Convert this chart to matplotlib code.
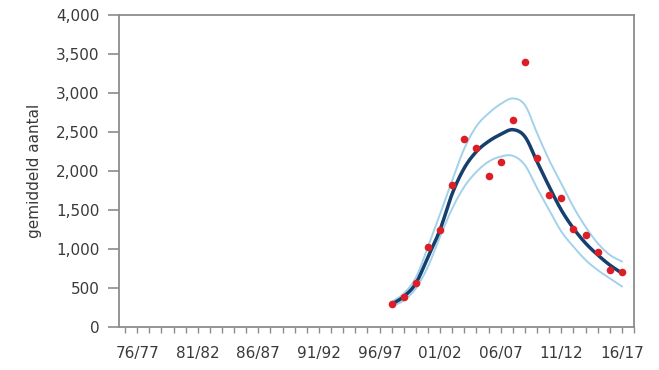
import numpy as np
import matplotlib
matplotlib.use("Agg")
import matplotlib.pyplot as plt
from matplotlib.ticker import FixedLocator, FuncFormatter

plt.rcParams["font.family"] = ["DejaVu Sans"]

# Seasons 97/98 .. 16/17, indexed by starting year
season_start = list(range(1997, 2017))

observed = [290, 380, 570, 1030, 1250, 1820, 2410, 2290, 1940, 2110,
            2650, 3400, 2170, 1690, 1660, 1260, 1180, 960, 730, 700]

trend = [290, 390, 560, 900, 1250, 1710, 2040, 2250, 2380, 2470,
         2530, 2440, 2120, 1800, 1500, 1265, 1075, 925, 795, 690]

upper = [320, 430, 635, 1030, 1450, 1880, 2290, 2575, 2740, 2860,
         2930, 2845, 2485, 2140, 1840, 1540, 1285, 1075, 925, 840]

lower = [265, 340, 495, 775, 1160, 1520, 1800, 1990, 2120, 2185,
         2195, 2075, 1780, 1500, 1225, 1030, 860, 730, 625, 520]

label_years = list(range(1976, 2017, 5))
y_ticks = list(range(0, 4001, 500))


def smooth(x, y, n=20):
    """Catmull-Rom curve through the given points."""
    x = np.asarray(x, float)
    y = np.asarray(y, float)
    px = np.concatenate([[2 * x[0] - x[1]], x, [2 * x[-1] - x[-2]]])
    py = np.concatenate([[2 * y[0] - y[1]], y, [2 * y[-1] - y[-2]]])
    xs, ys = [], []
    t = np.linspace(0, 1, n, endpoint=False)
    for i in range(1, len(px) - 2):
        for p, out in ((px, xs), (py, ys)):
            p0, p1, p2, p3 = p[i - 1], p[i], p[i + 1], p[i + 2]
            out.extend(0.5 * ((2 * p1) + (-p0 + p2) * t
                              + (2 * p0 - 5 * p1 + 4 * p2 - p3) * t ** 2
                              + (-p0 + 3 * p1 - 3 * p2 + p3) * t ** 3))
    xs.append(x[-1])
    ys.append(y[-1])
    return np.array(xs), np.array(ys)


fig = plt.figure(figsize=(6.59, 3.70), dpi=100)
ax = fig.add_axes([119 / 659, 1 - 327 / 370, (634 - 119) / 659, (327 - 15) / 370])

band_color = "#a2d2eb"
ax.plot(*smooth(season_start, upper), color=band_color, lw=1.4, zorder=2)
ax.plot(*smooth(season_start, lower), color=band_color, lw=1.4, zorder=2)
ax.plot(*smooth(season_start, trend), color="#173f6e", lw=2.5, zorder=3)
ax.scatter(season_start, observed, s=30, color="#dc1f26", zorder=4, linewidths=0)

ax.set_xlim(1974.5, 2017)
ax.set_ylim(0, 4000)

ax.xaxis.set_major_locator(FixedLocator(label_years))
ax.xaxis.set_minor_locator(FixedLocator(range(1975, 2018)))
ax.xaxis.set_major_formatter(FuncFormatter(
    lambda v, _: f"{int(v) % 100:02d}/{(int(v) + 1) % 100:02d}"))
ax.set_yticks(y_ticks)
ax.yaxis.set_major_formatter(FuncFormatter(lambda v, _: f"{int(v):,}"))

spine_color = "#8c8c8c"
for s in ax.spines.values():
    s.set_color(spine_color)
    s.set_linewidth(1.3)

ax.tick_params(axis="x", which="both", direction="out", length=4, width=1,
               color=spine_color)
ax.tick_params(axis="x", which="major", pad=10, labelsize=11,
               labelcolor="#3a3a3a")
ax.tick_params(axis="y", direction="out", length=8, width=1.2,
               color=spine_color, pad=6, labelsize=11, labelcolor="#3a3a3a")

ax.set_ylabel("gemiddeld aantal", fontsize=11, color="#3a3a3a", labelpad=10)

fig.savefig("out.png", dpi=100)
